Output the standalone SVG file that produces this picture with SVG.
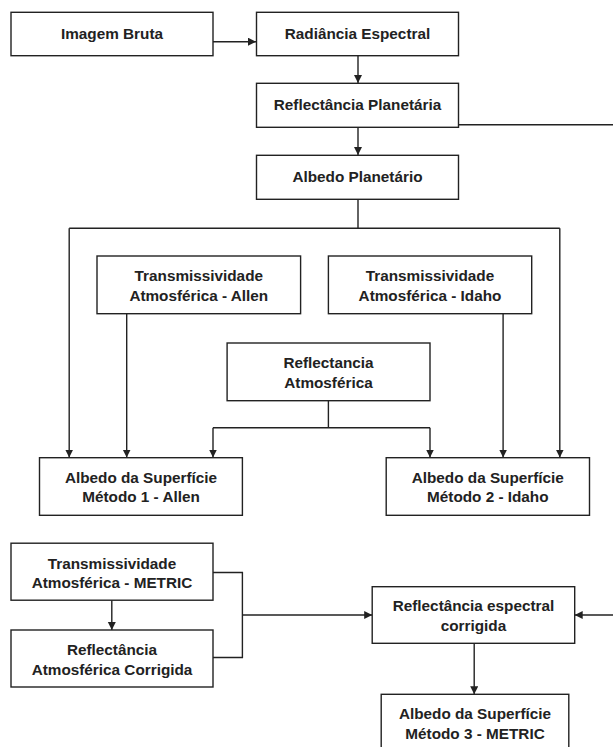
<svg xmlns="http://www.w3.org/2000/svg" width="613" height="747" viewBox="0 0 613 747">
<style>
.box{fill:#fff;stroke:#222;stroke-width:1.4}
.t{font-family:"Liberation Sans",Arial,sans-serif;font-weight:bold;font-size:15.3px;fill:#222;text-anchor:middle}
.c{fill:none;stroke:#222;stroke-width:1.4}
</style>
<defs>
<marker id="ah" markerUnits="userSpaceOnUse" markerWidth="10" markerHeight="10" refX="8" refY="4" orient="auto">
<path d="M0,0 L8,4 L0,8 Z" fill="#222"/>
</marker>
</defs>
<rect width="613" height="747" fill="#fff"/>
<g id="connectors">
<path class="c" d="M213,41.7 H256" marker-end="url(#ah)"/>
<path class="c" d="M358,56 V83" marker-end="url(#ah)"/>
<path class="c" d="M358,127 V155" marker-end="url(#ah)"/>
<path class="c" d="M458.6,124.7 H613"/>
<path class="c" d="M358,199 V228.3"/>
<path class="c" d="M69.2,228.3 H559.8"/>
<path class="c" d="M69.2,228.3 V457.5" marker-end="url(#ah)"/>
<path class="c" d="M559.8,228.3 V457.5" marker-end="url(#ah)"/>
<path class="c" d="M126.7,313.7 V457.5" marker-end="url(#ah)"/>
<path class="c" d="M503.1,313.7 V457.5" marker-end="url(#ah)"/>
<path class="c" d="M328.4,400.7 V427.7 M213,427.7 H430"/>
<path class="c" d="M213,427.7 V457.5" marker-end="url(#ah)"/>
<path class="c" d="M430,427.7 V457.5" marker-end="url(#ah)"/>
<path class="c" d="M111.8,600.3 V630" marker-end="url(#ah)"/>
<path class="c" d="M213,572.5 H242.4 V657.5 H213"/>
<path class="c" d="M242.4,615 H372.2" marker-end="url(#ah)"/>
<path class="c" d="M613,615 H574.7" marker-end="url(#ah)"/>
<path class="c" d="M474.2,643.3 V694.3" marker-end="url(#ah)"/>
</g>
<g id="imagem-bruta"><rect class="box" x="11" y="12.3" width="202" height="43.4"/><text class="t" x="112" y="38.6">Imagem Bruta</text></g>
<g id="radiancia"><rect class="box" x="256.5" y="12.3" width="202" height="43.4"/><text class="t" x="357.5" y="38.6">Radiância Espectral</text></g>
<g id="reflectancia-planetaria"><rect class="box" x="256.5" y="83.3" width="202" height="44"/><text class="t" x="357.5" y="109.8">Reflectância Planetária</text></g>
<g id="albedo-planetario"><rect class="box" x="256.5" y="155.3" width="202" height="44"/><text class="t" x="357.5" y="181.8">Albedo Planetário</text></g>
<g id="trans-allen"><rect class="box" x="97" y="256" width="203.6" height="57.7"/><text class="t" x="198.8" y="281.3">Transmissividade</text><text class="t" x="198.8" y="300.6">Atmosférica - Allen</text></g>
<g id="trans-idaho"><rect class="box" x="328.4" y="256" width="203.3" height="57.7"/><text class="t" x="430" y="281.3">Transmissividade</text><text class="t" x="430" y="300.6">Atmosférica - Idaho</text></g>
<g id="refl-atm"><rect class="box" x="227.1" y="343" width="202.9" height="57.7"/><text class="t" x="328.5" y="368.2">Reflectancia</text><text class="t" x="328.5" y="387.5">Atmosférica</text></g>
<g id="albedo-m1"><rect class="box" x="39.5" y="457.7" width="202.9" height="57.6"/><text class="t" x="141" y="482.7">Albedo da Superfície</text><text class="t" x="141" y="502">Método 1 - Allen</text></g>
<g id="albedo-m2"><rect class="box" x="386.2" y="457.7" width="203.3" height="57.6"/><text class="t" x="487.8" y="482.7">Albedo da Superfície</text><text class="t" x="487.8" y="502">Método 2 - Idaho</text></g>
<g id="trans-metric"><rect class="box" x="11" y="543.2" width="202" height="57"/><text class="t" x="112" y="568.7">Transmissividade</text><text class="t" x="112" y="588">Atmosférica - METRIC</text></g>
<g id="refl-atm-corr"><rect class="box" x="11" y="630" width="202" height="57"/><text class="t" x="112" y="655.3">Reflectância</text><text class="t" x="112" y="674.6">Atmosférica Corrigida</text></g>
<g id="refl-esp-corr"><rect class="box" x="372.2" y="586.7" width="202.5" height="56.6"/><text class="t" x="473.5" y="611.3">Reflectância espectral</text><text class="t" x="473.5" y="630.6">corrigida</text></g>
<g id="albedo-m3"><rect class="box" x="381.2" y="694.3" width="187.6" height="70"/><text class="t" x="475" y="719.3">Albedo da Superfície</text><text class="t" x="475" y="739">Método 3 - METRIC</text></g>
</svg>
